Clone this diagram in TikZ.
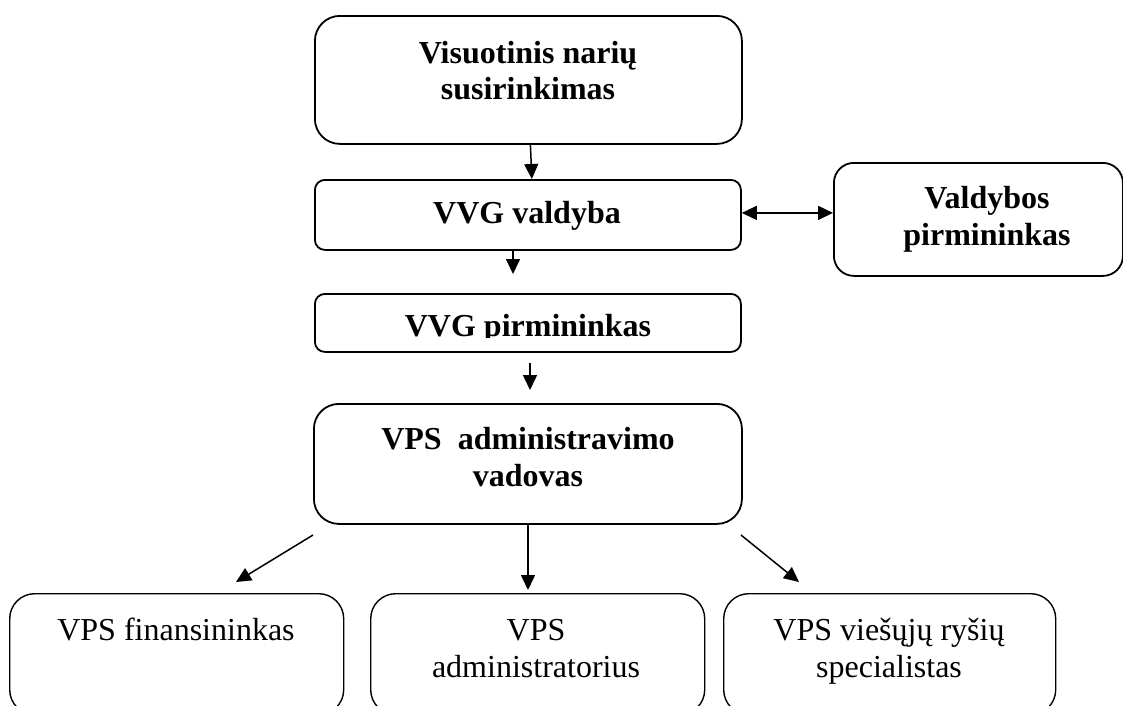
\documentclass[tikz,border=0pt]{standalone}
\usepackage{fontspec}
\setmainfont{Liberation Serif}
\usetikzlibrary{arrows.meta}
\begin{document}
\begin{tikzpicture}[x=1pt,y=-1pt,
  box/.style={draw, line width=1.8pt, rounded corners=#1, inner sep=0pt, anchor=north west},
  box/.default=10pt,
  lbox/.style={draw, line width=1.4pt, rounded corners=25pt, inner sep=0pt, anchor=north west},
  bt/.style={font=\fontsize{32}{36}\selectfont\bfseries, anchor=base, inner sep=0pt},
  rt/.style={font=\fontsize{32}{36}\selectfont, anchor=base, inner sep=0pt},
  tip/.tip={Triangle[length=15pt,width=14pt]},
  arr/.style={line width=1.5pt, -tip},
  darr/.style={line width=1.5pt, tip-tip},
]
\useasboundingbox (0,0) rectangle (1123,705);

% boxes
\node[box=25pt, minimum width=427pt, minimum height=128pt] (b1) at (314,15) {};
\node[box=10pt, minimum width=426pt, minimum height=70pt] (b2) at (314,179) {};
\node[box=10pt, minimum width=426pt, minimum height=58pt] (b3) at (314,293) {};
\node[box=25pt, minimum width=428pt, minimum height=120pt] (b4) at (313,403) {};
\node[box=20pt, minimum width=289pt, minimum height=113pt] (b5) at (833,162) {};
\node[lbox, minimum width=334pt, minimum height=121pt] (c1) at (9,593) {};
\node[lbox, minimum width=334pt, minimum height=121pt] (c2) at (370,593) {};
\node[lbox, minimum width=332pt, minimum height=121pt] (c3) at (723,593) {};

% texts
\node[bt] (t1a) at (528,63) {Visuotinis narių};
\node[bt] (t1b) at (528,99.5) {susirinkimas};
\node[bt] (t2) at (527,223) {VVG valdyba};
\begin{scope}
  \clip (300,280) rectangle (760,337);
  \node[bt] (t3) at (528,336) {VVG pirmininkas};
\end{scope}
\node[bt] (t4a) at (528,449) {VPS\ \ administravimo};
\node[bt] (t4b) at (528,486) {vadovas};
\node[bt] (t5a) at (987,208) {Valdybos};
\node[bt] (t5b) at (987,245) {pirmininkas};
\node[rt] (u1) at (176,640) {VPS finansininkas};
\node[rt] (u2a) at (536,640) {VPS};
\node[rt] (u2b) at (536,677) {administratorius};
\node[rt] (u3a) at (889,640) {VPS viešųjų ryšių};
\node[rt] (u3b) at (889,677) {specialistas};

% connectors
\draw[arr] ([xshift=2pt]b1.south) -- ([xshift=4pt]b2.north);
\coordinate (a2) at (513,274);
\draw[arr] (b2.south -| a2) -- (a2);
\coordinate (a3s) at (530,363);
\coordinate (a3e) at (530,390);
\draw[arr] (a3s) -- (a3e);
\draw[darr] ([yshift=2pt]b2.east) -- ([yshift=6.5pt]b5.west);
\coordinate (d1s) at (313,535);
\coordinate (d1e) at (236,582);
\draw[arr] (d1s) -- (d1e);
\coordinate (d2e) at (528,590);
\draw[arr] (b4.south -| d2e) -- (d2e);
\coordinate (d3s) at (741,535);
\coordinate (d3e) at (799,582);
\draw[arr] (d3s) -- (d3e);
\end{tikzpicture}
\end{document}
